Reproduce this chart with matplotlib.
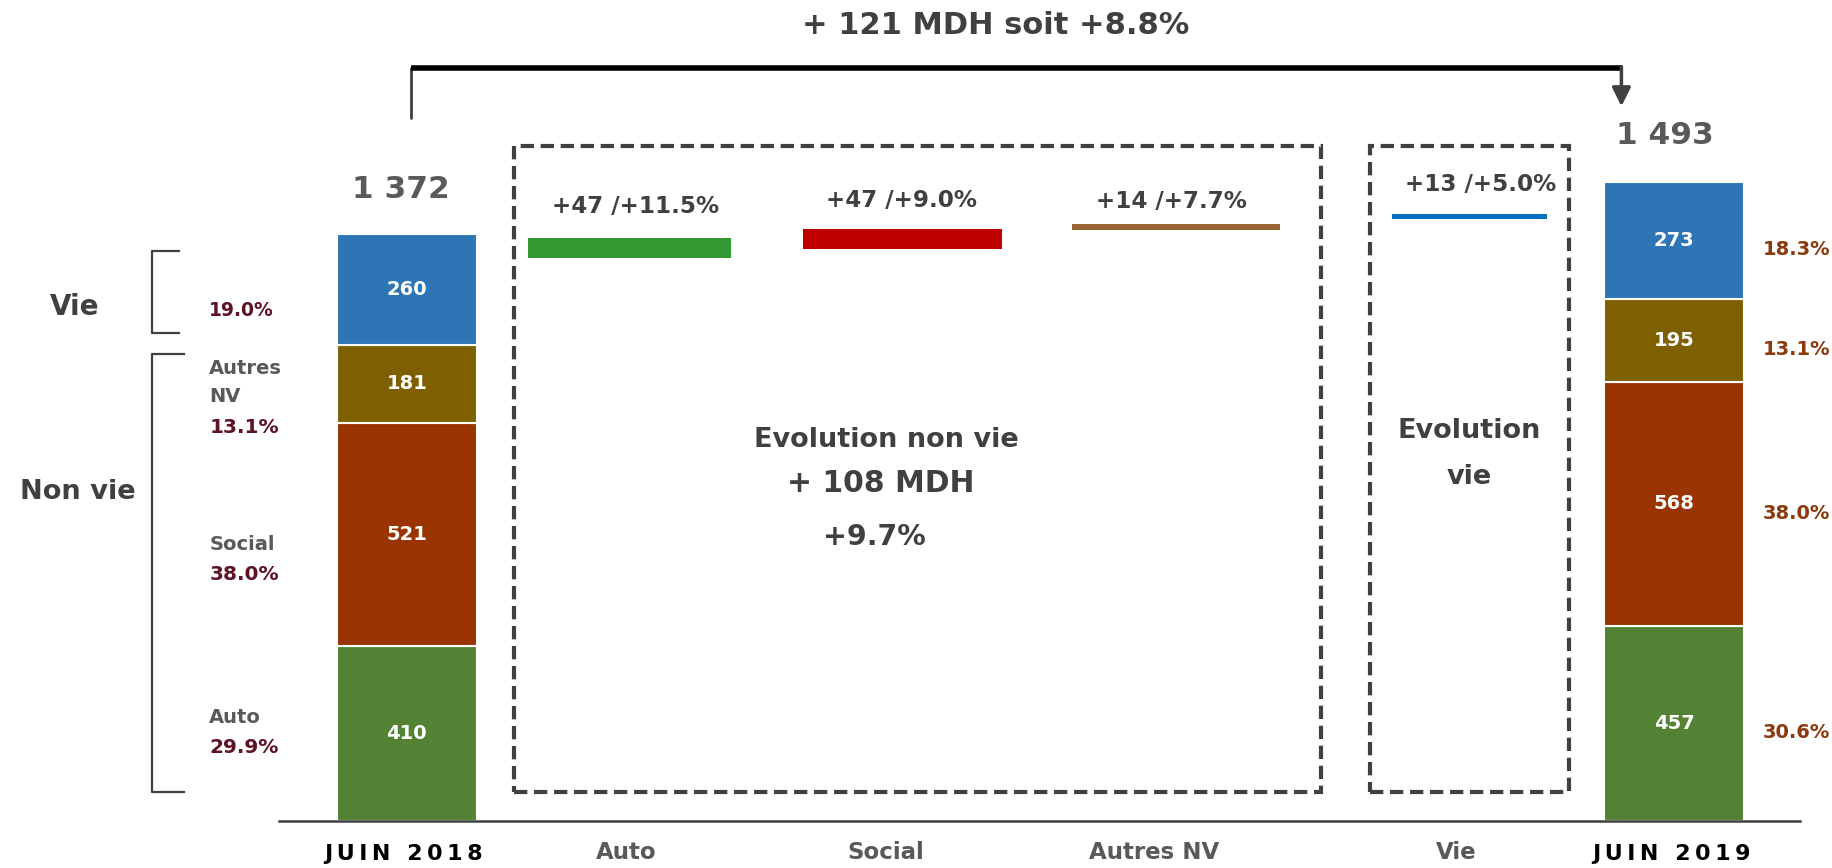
import matplotlib
matplotlib.use("Agg")
import matplotlib.pyplot as plt
from matplotlib.patches import Rectangle

plt.rcParams['font.family'] = ['DejaVu Sans']
plt.rcParams['font.weight'] = 'bold'

# ---------------- data ----------------
segments = ['Auto', 'Social', 'Autres NV', 'Vie']
juin2018 = [410, 521, 181, 260]
juin2019 = [457, 568, 195, 273]
pct2018 = ['29.9%', '38.0%', '13.1%', '19.0%']
pct2019 = ['30.6%', '38.0%', '13.1%', '18.3%']
deltas = [47, 47, 14, 13]
delta_pct = ['+11.5%', '+9.0%', '+7.7%', '+5.0%']
wf_bottoms = [1316, 1337, 1381, 1406]   # floating bar bottoms
categories = ['JUIN 2018', 'Auto', 'Social', 'Autres NV', 'Vie', 'JUIN 2019']
total_2018 = '1 372'
total_2019 = '1 493'
title_text = '+ 121 MDH soit +8.8%'
nonvie_text = ['Evolution non vie', '+ 108 MDH', '+9.7%']
vie_text = ['Evolution', 'vie']

# ---------------- styles / layout ----------------
seg_colors = ['#548235', '#993300', '#7F6000', '#2E75B6']
wf_colors = ['#339933', '#C00000', '#996633', '#0070C0']
dark = '#404040'
gray = '#595959'
maroon = '#5E1224'
brown = '#8B3A0F'

W, H = 1568, 743          # reference (shrunk) pixel frame
BASE = 703                # baseline pixel row
S = 0.3666                # pixels per data unit
def yv(p):                # pixel row -> data value
    return (BASE - p) / S
PX = 1 / S                # data units per pixel

xpos = [348, 538.5, 772, 1006, 1257, 1432]
widths = [120, 173, 170, 178, 132, 120]
cat_label_x = [345, 536, 758, 987, 1246, 1430]

fig = plt.figure(figsize=(18.33, 8.68), dpi=100)
ax = fig.add_axes([0, 0, 1, 1])
ax.set_xlim(0, W)
ax.set_ylim(yv(H), yv(0))
ax.axis('off')

# ---------------- stacked bars ----------------
for xi, vals in ((0, juin2018), (5, juin2019)):
    bottom = 0
    for v, c in zip(vals, seg_colors):
        ax.bar(xpos[xi], v, width=widths[xi], bottom=bottom, color=c,
               edgecolor='white', linewidth=1.5, zorder=2)
        ax.text(xpos[xi], bottom + v / 2, f'{v}', color='white', fontsize=14,
                ha='center', va='center', zorder=3)
        bottom += v

ax.text(xpos[0] - 5, sum(juin2018) + 38 * PX, total_2018, color=gray, fontsize=22.5,
        ha='center', va='center')
ax.text(xpos[5] - 8, sum(juin2019) + 40 * PX, total_2019, color=gray, fontsize=22.5,
        ha='center', va='center')

# ---------------- floating (waterfall) bars ----------------
for i in range(4):
    xi = i + 1
    ax.bar(xpos[xi], deltas[i], width=widths[xi], bottom=wf_bottoms[i],
           color=wf_colors[i], edgecolor='none', zorder=2)
lbl_y = [177, 172, 172.5, 158]
lbl_x = [544, 771, 1002, 1266.5]
for i in range(4):
    ax.text(lbl_x[i], yv(lbl_y[i]), f'+{deltas[i]} /{delta_pct[i]}', color=dark,
            fontsize=16.6, ha='center', va='center')

# ---------------- dashed boxes ----------------
for (x0, x1) in ((440, 1130), (1172, 1342)):
    r = Rectangle((x0, yv(678)), x1 - x0, yv(125) - yv(678), fill=False,
                  edgecolor=dark, linewidth=3, linestyle=(0, (3.2, 1.6)), zorder=1)
    ax.add_patch(r)

ax.text(758, yv(377), nonvie_text[0], color=dark, fontsize=19.5, ha='center', va='center')
ax.text(753, yv(414), nonvie_text[1], color=dark, fontsize=21.5, ha='center', va='center')
ax.text(748, yv(460), nonvie_text[2], color=dark, fontsize=20.5, ha='center', va='center')
ax.text(1257, yv(369), vie_text[0], color=dark, fontsize=19.5, ha='center', va='center')
ax.text(1257, yv(408), vie_text[1], color=dark, fontsize=19.5, ha='center', va='center')

# ---------------- baseline & category labels ----------------
ax.plot([239, 1540], [0, 0], color=dark, linewidth=1.8, zorder=3)
for i, c in enumerate(categories):
    if c.startswith('JUIN'):
        txt = '\u2009'.join(list(c))
        ax.text(cat_label_x[i], yv(731), txt, color='black', fontsize=16,
                ha='center', va='center')
    else:
        ax.text(cat_label_x[i], yv(730), c, color=gray, fontsize=16.5,
                ha='center', va='center')

# ---------------- top bracket with arrow ----------------
ax.plot([352, 352], [yv(101), yv(58)], color=dark, linewidth=2, solid_capstyle='round')
ax.plot([352, 1387], [yv(58), yv(58)], color='black', linewidth=4, solid_capstyle='butt')
ax.annotate('', xy=(1387, yv(91)), xytext=(1387, yv(57)),
            arrowprops=dict(arrowstyle='-|>', color=dark, lw=2.5, mutation_scale=28,
                            shrinkA=0, shrinkB=0))
ax.text(852, yv(22), title_text, color=dark, fontsize=22, ha='center', va='center')

# ---------------- left side annotations ----------------
ax.text(64, yv(263), 'Vie', color=dark, fontsize=20, ha='center', va='center')
ax.text(67, yv(421), 'Non vie', color=dark, fontsize=19.6, ha='center', va='center')
# brackets
for (t, b, r) in ((215, 285, 153), (303, 678, 157)):
    ax.plot([r, 130, 130, r], [yv(t), yv(t), yv(b), yv(b)], color=dark, linewidth=1.6)

# left labels (name + percentage), centred around each segment
name_off = [-14, 9, -13, None]
pct_off = [12, 35, 37, 18]
seg_mid = []
acc = 0
for v in juin2018:
    seg_mid.append(acc + v / 2)
    acc += v
for i in range(4):
    if name_off[i] is not None:
        if segments[i] == 'Autres NV':
            ax.text(179, seg_mid[i] - name_off[i] * PX, 'Autres', color=gray, fontsize=14,
                    ha='left', va='center')
            ax.text(179, seg_mid[i] - (name_off[i] + 24) * PX, 'NV', color=gray, fontsize=14,
                    ha='left', va='center')
        else:
            ax.text(179, seg_mid[i] - name_off[i] * PX, segments[i], color=gray, fontsize=14,
                    ha='left', va='center')
    ax.text(179, seg_mid[i] - pct_off[i] * PX, pct2018[i], color=maroon,
            fontsize=14.5 if i < 3 else 13.5, ha='left', va='center')

# right percentages
acc = 0
for i, v in enumerate(juin2019):
    mid = acc + v / 2
    acc += v
    ax.text(1508, mid - 8 * PX, pct2019[i], color=brown, fontsize=14,
            ha='left', va='center')

fig.savefig('out.png', dpi=100)
